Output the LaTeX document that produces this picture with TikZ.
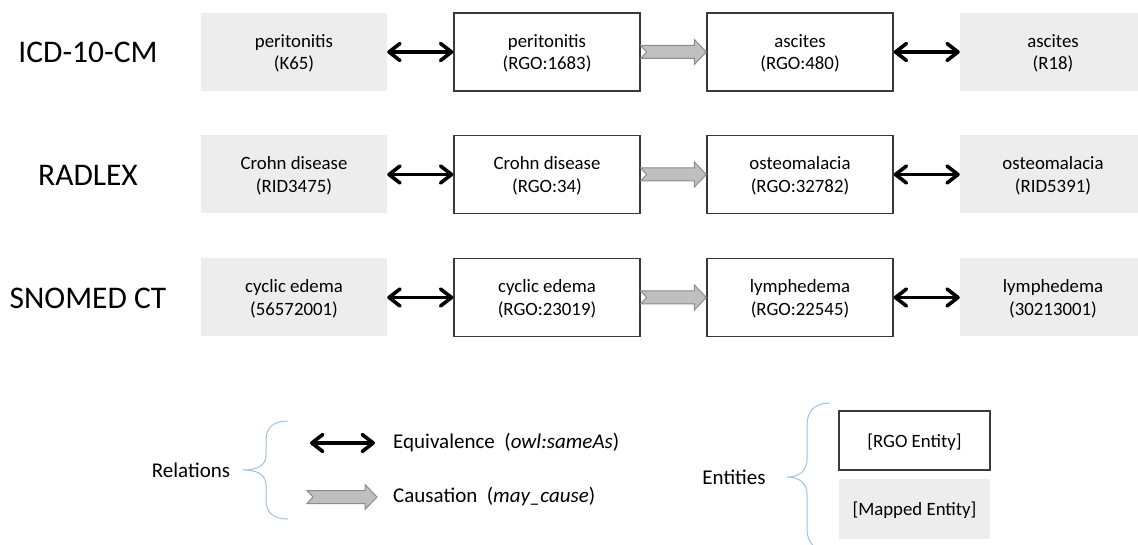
\documentclass[tikz,border=0pt]{standalone}
\usepackage{fontspec}
\setmainfont{Carlito}
\usetikzlibrary{arrows.meta,calc}
\definecolor{mapfill}{HTML}{EDEDED}
\definecolor{rgoline}{HTML}{3A3A3A}
\definecolor{causefill}{HTML}{BFBFBF}
\definecolor{causeline}{HTML}{8C8C8C}
\definecolor{bracecol}{HTML}{9DC3E6}
\newcommand\blockarrow[2]{%
  \filldraw[causal] ($(#1)+(0,-6.5)$) -- ($(#2)+(-12,-6.5)$) -- ($(#2)+(-12,-12.5)$) -- (#2)
    -- ($(#2)+(-12,12.5)$) -- ($(#2)+(-12,6.5)$) -- ($(#1)+(0,6.5)$) -- ($(#1)+(6,0)$) -- cycle;}
\tikzset{
  boxtext/.style={font=\fontsize{18.8}{22.5}\selectfont, align=center, text=black},
  mapped/.style={boxtext, fill=mapfill, draw=none, minimum width=186pt, minimum height=78pt, inner sep=0pt, text depth=-1.5pt},
  rgo/.style={boxtext, fill=white, draw=rgoline, line width=1.3pt, minimum width=186pt, minimum height=78pt, inner sep=0pt, text depth=-1.5pt},
  title/.style={font=\fontsize{31.5}{36}\selectfont, text=black},
  legtext/.style={font=\fontsize{21}{24}\selectfont, text=black},
  eq/.style={line width=3.6pt, {Straight Barb[length=11pt,width=17pt,round]}-{Straight Barb[length=11pt,width=17pt,round]}},
  causal/.style={fill=causefill, draw=causeline, line width=1pt, line join=miter},
  brace/.style={draw=bracecol, line width=1pt},
}
\begin{document}
\begin{tikzpicture}[x=1pt,y=-1pt]
\useasboundingbox (0,0) rectangle (1138,545);
\clip (0,0) rectangle (1138,545);
\fill[white] (0,0) rectangle (1138,545);

% titles
\node[title] (t1) at (88,52) {ICD-10-CM};
\node[title] (t2) at (88,175) {RADLEX};
\node[title] (t3) at (88,298) {SNOMED CT};

% row 1
\node[mapped] (m11) at (294,52) {peritonitis\\(K65)};
\node[rgo] (r11) at (547,52) {peritonitis\\(RGO:1683)};
\node[rgo] (r12) at (800,52) {ascites\\(RGO:480)};
\node[mapped] (m12) at (1053,52) {ascites\\(R18)};
% row 2
\node[mapped] (m21) at (294,174.5) {Crohn disease\\(RID3475)};
\node[rgo] (r21) at (547,174.5) {Crohn disease\\(RGO:34)};
\node[rgo] (r22) at (800,174.5) {osteomalacia\\(RGO:32782)};
\node[mapped] (m22) at (1053,174.5) {osteomalacia\\(RID5391)};
% row 3
\node[mapped] (m31) at (294,297.5) {cyclic edema\\(56572001)};
\node[rgo] (r31) at (547,297.5) {cyclic edema\\(RGO:23019)};
\node[rgo] (r32) at (800,297.5) {lymphedema\\(RGO:22545)};
\node[mapped] (m32) at (1053,297.5) {lymphedema\\(30213001)};

% equivalence arrows
\foreach \r in {1,2,3}{
  \draw[eq] (m\r1.east) -- (r\r1.west);
  \draw[eq] (r\r2.east) -- (m\r2.west);
}
% causation arrows
\foreach \r in {1,2,3}{
  \blockarrow{r\r1.east}{r\r2.west}
}

% legend: relations
\node[legtext] (rel) at (191,470) {Relations};
\draw[brace] (288,421) .. controls (273,421) and (266,428) .. (266,440) -- (266,455)
  .. controls (266,465) and (258,470) .. (243,470)
  .. controls (258,470) and (266,475) .. (266,485) -- (266,500)
  .. controls (266,512) and (273,519) .. (288,519);
\coordinate (le1) at (310,443);
\coordinate (le2) at (375,443);
\draw[eq] (le1) -- (le2);
\node[legtext, anchor=west, inner sep=0pt] (leqt) at (393,443) {Equivalence\ \ (\textit{owl:sameAs})};
\coordinate (lc1) at (307,497);
\coordinate (lc2) at (377,497);
\blockarrow{lc1}{lc2}
\node[legtext, anchor=west, inner sep=0pt] (lcat) at (393,497) {Causation\ \ (\textit{may\_cause})};

% legend: entities
\node[legtext] (ent) at (734,477) {Entities};
\draw[brace] (830,403) .. controls (814,403) and (807,412) .. (807,425) -- (807,460)
  .. controls (807,470) and (800,477) .. (787,477)
  .. controls (800,477) and (807,484) .. (807,494) -- (807,529)
  .. controls (807,542) and (814,551) .. (830,551);
\node[rgo, minimum width=151pt, minimum height=59pt] (lrgo) at (914.5,440.5) {[RGO Entity]};
\node[mapped, minimum width=151pt, minimum height=60pt] (lmap) at (914.5,509) {[Mapped Entity]};
\end{tikzpicture}
\end{document}
